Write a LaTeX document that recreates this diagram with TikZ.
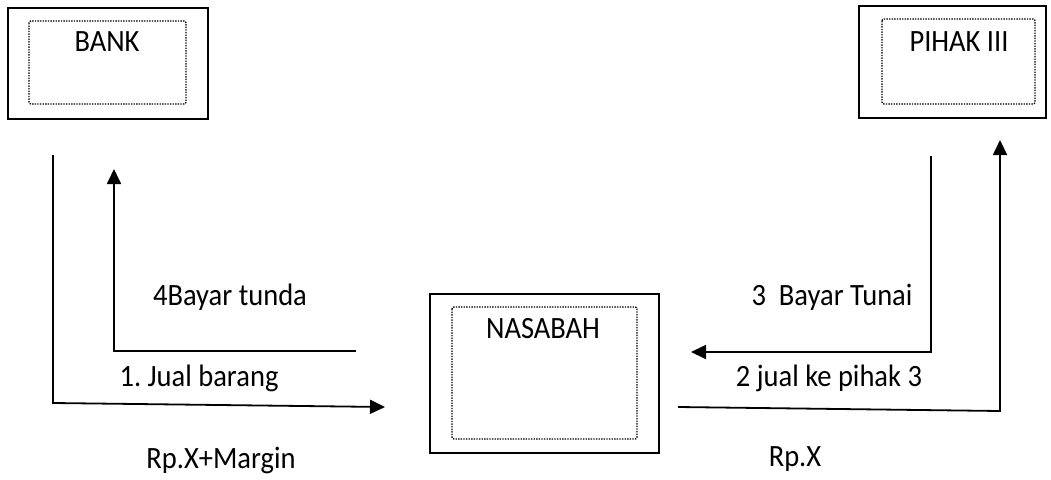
\documentclass[tikz,border=0pt]{standalone}
\usepackage{fontspec}
\setmainfont[FakeStretch=0.92]{Carlito}
\usetikzlibrary{arrows.meta}
\begin{document}
\begin{tikzpicture}[x=1pt,y=-1pt,
  outerbox/.style={draw,line width=1.8pt},
  innerbox/.style={draw,line width=1.4pt,dash pattern=on 1.4pt off 1.2pt,rounded corners=2pt},
  lbl/.style={font=\fontsize{31}{36}\selectfont,inner sep=0pt,anchor=center},
  conn/.style={line width=1.8pt},
  arr/.style={conn,-{Triangle[length=15pt,width=14pt]}}]
\useasboundingbox (0,0) rectangle (1051,479);
% boxes
\draw[outerbox] (8,8) rectangle (208,119);
\draw[innerbox] (29,21) rectangle (186,104);
\node[lbl] (bank) at (107,42) {BANK};
\draw[outerbox] (859,6) rectangle (1046,118);
\draw[innerbox] (882,19) rectangle (1035,104);
\node[lbl] (pihak) at (959,42) {PIHAK III};
\draw[outerbox] (430,294) rectangle (659,453);
\draw[innerbox] (452,307) rectangle (637,439);
\node[lbl] (nasabah) at (543,329) {NASABAH};
% connector points
\coordinate (a1) at (53,155);
\coordinate (a2) at (53,403);
\coordinate (a3) at (385,407);
\coordinate (b1) at (356,351);
\coordinate (b2) at (114,351);
\coordinate (b3) at (114,169);
\coordinate (c1) at (931,156);
\coordinate (c2) at (931,352);
\coordinate (c3) at (691,352);
\coordinate (d1) at (678,407);
\coordinate (d2) at (1000,411);
\coordinate (d3) at (1000,140);
\draw[arr] (a1) -- (a2) -- (a3);
\draw[arr] (b1) -- (b2) -- (b3);
\draw[arr] (c1) -- (c2) -- (c3);
\draw[arr] (d1) -- (d2) -- (d3);
% labels
\node[lbl] (l4) at (230,297) {4Bayar tunda};
\node[lbl] (l1) at (199,378) {1.\ Jual barang};
\node[lbl] (lm) at (221,460) {Rp.X+Margin};
\node[lbl] (l3) at (832,297) {3\ \ Bayar Tunai};
\node[lbl] (l2) at (829,378) {2 jual ke pihak 3};
\node[lbl] (lx) at (795,459) {Rp.X};
\end{tikzpicture}
\end{document}
